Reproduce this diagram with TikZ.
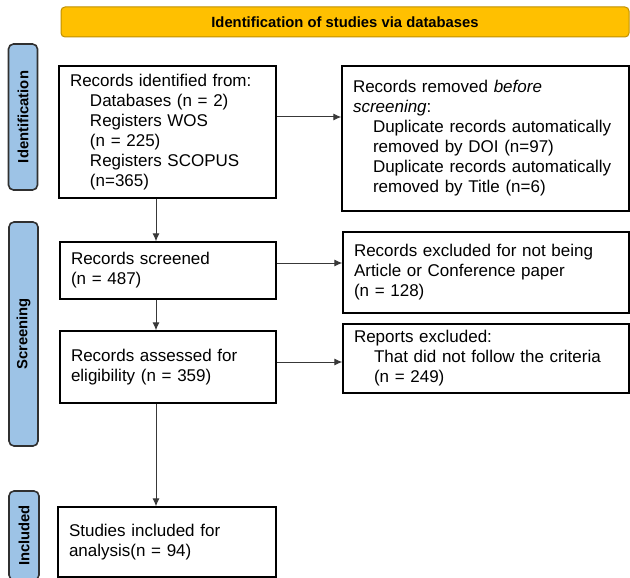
\documentclass[tikz,border=0pt]{standalone}
\usepackage{fontspec}
\setmainfont{Liberation Sans}
\usetikzlibrary{arrows.meta,calc}
\definecolor{bannerfill}{HTML}{FFC000}
\definecolor{bannerdraw}{HTML}{C09000}
\definecolor{labelfill}{HTML}{9DC3E6}
\definecolor{labeldraw}{HTML}{303030}
\definecolor{arrowcol}{HTML}{383838}
\tikzset{
  flowbox/.style={draw=black, line width=1.3pt, fill=white, rectangle, align=left,
    inner xsep=11pt, inner ysep=0pt, anchor=center,
    font=\fontsize{17}{20}\selectfont},
  sidelabel/.style={draw=labeldraw, line width=1.6pt, fill=labelfill, rounded corners=5pt,
    rotate=90, inner sep=0pt, anchor=center, font=\bfseries\fontsize{14.8}{16}\selectfont},
  banner/.style={draw=bannerdraw, line width=1pt, fill=bannerfill, rounded corners=4pt,
    inner sep=0pt, anchor=center, font=\bfseries\fontsize{14.8}{16}\selectfont},
  arr/.style={draw=arrowcol, line width=1pt, -{Latex[length=8pt,width=7pt]}}
}
\newcommand{\ind}{\hspace*{20pt}}
\begin{document}
\begin{tikzpicture}[x=1pt,y=-1pt]
\useasboundingbox (0,0) rectangle (630,578);
\clip (0,0) rectangle (630,578);
\fill[white] (0,0) rectangle (630,578);

% banner
\node[banner, minimum width=568pt, minimum height=30pt] (ban) at (345,22) {Identification of studies via databases};

% side labels
\node[sidelabel, minimum width=146pt, minimum height=29pt] (lid) at (23,117) {Identification};
\node[sidelabel, minimum width=224pt, minimum height=29pt] (lsc) at (23.5,334) {Screening};
\node[sidelabel, minimum width=89pt, minimum height=30pt] (lin) at (24,535.5) {Included};

% left column
\node[flowbox, minimum width=217pt, minimum height=132pt, text width=195pt] (box1) at (167.5,132)
 {Records identified from:\\
  \ind Databases (n = 2)\\
  \ind Registers WOS\\
  \ind (n = 225)\\
  \ind Registers SCOPUS\\
  \ind (n=365)};
\node[flowbox, minimum width=216pt, minimum height=57pt, text width=194pt] (scr) at (168,270.5)
 {Records screened\\(n = 487)};
\node[flowbox, minimum width=216pt, minimum height=72pt, text width=194pt] (ass) at (168,367)
 {Records assessed for\\eligibility (n = 359)};
\node[flowbox, minimum width=218pt, minimum height=70pt, text width=196pt] (inc) at (167,542)
 {Studies included for\\analysis(n = 94)};

% right column
\node[flowbox, minimum width=287pt, minimum height=145pt, text width=265pt] (rb1) at (485.5,138.5)
 {Records removed \textit{before}\\
  \textit{screening}:\\
  \ind Duplicate records automatically\\
  \ind removed by DOI (n=97)\\
  \ind Duplicate records automatically\\
  \ind removed by Title (n=6)};
\node[flowbox, minimum width=286pt, minimum height=81pt, text width=264pt] (rb2) at (486,272.5)
 {Records excluded for not being\\Article or Conference paper\\(n = 128)};
\node[flowbox, minimum width=286pt, minimum height=69pt, text width=264pt] (rb3) at (486,358.5)
 {Reports excluded:\\
  \ind That did not follow the criteria\\
  \ind (n = 249)};

% connectors
\draw[arr] ([yshift=15pt]box1.east) -- ([yshift=15pt]box1.east -| rb1.west);
\draw[arr] ([xshift=-11.5pt]box1.south) -- ([xshift=-11.5pt]box1.south |- scr.north);
\draw[arr] ([yshift=7.5pt]scr.east) -- ([yshift=7.5pt]scr.east -| rb2.west);
\draw[arr] ([xshift=-12pt]scr.south) -- ([xshift=-12pt]scr.south |- ass.north);
\draw[arr] ([yshift=5pt]ass.east) -- ([yshift=5pt]ass.east -| rb3.west);
\draw[arr] ([xshift=-12pt]ass.south) -- ([xshift=-12pt]ass.south |- inc.north);
\end{tikzpicture}
\end{document}
